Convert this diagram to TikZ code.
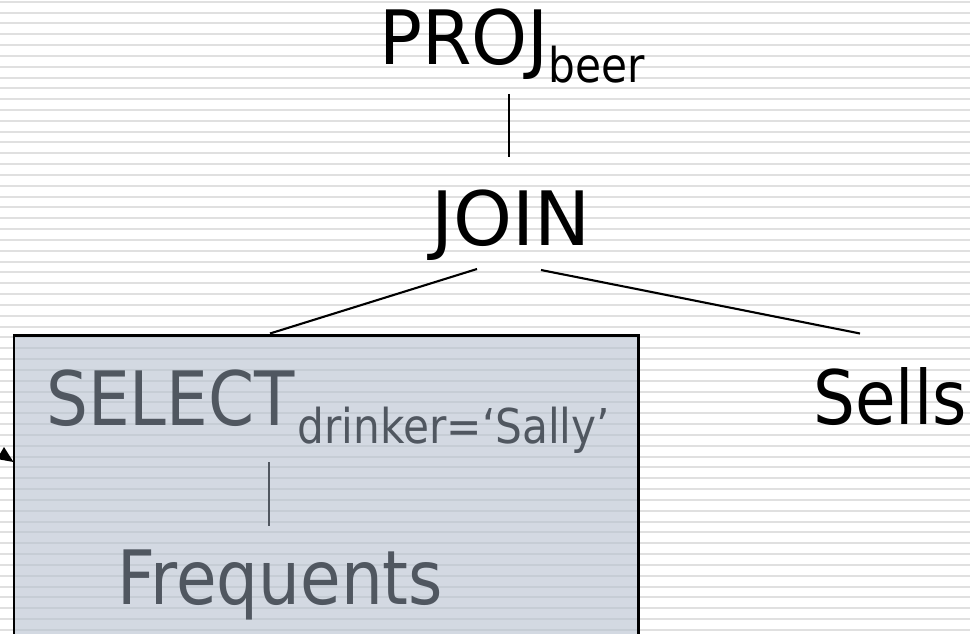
\documentclass[tikz,border=0pt]{standalone}
\usepackage{fontspec}
\newfontfamily\slidefont[FakeStretch=0.88]{DejaVu Sans}
\newfontfamily\slidefontmid[FakeStretch=0.95]{DejaVu Sans}
\newfontfamily\slidefontwide{DejaVu Sans}
\usetikzlibrary{calc}
\definecolor{stripe}{RGB}{224,224,224}
\definecolor{boxfill}{RGB}{182,193,207}
\definecolor{inktext}{RGB}{80,87,96}
\tikzset{
  term/.style={inner sep=0pt, anchor=base west, font=\slidefont\fontsize{75}{80}\selectfont},
  edge/.style={line width=2.1pt, black},
  inedge/.style={line width=1.9pt, inktext},
  groupbox/.style={draw=black, line width=2.8pt, fill=boxfill, fill opacity=0.6,
    inner sep=0pt, anchor=north west},
}
\newcommand{\lowsub}[2][0pt]{\kern#1\raisebox{-18pt}{\slidefont\fontsize{48}{50}\selectfont #2}}
\begin{document}
\begin{tikzpicture}[x=1pt,y=-1pt]
  \useasboundingbox (0,0) rectangle (970,634);
  \clip (0,0) rectangle (970,634);
  \fill[white] (0,0) rectangle (970,634);
  % ruled background
  \foreach \i in {0,...,58} {
    \draw[stripe, line width=2pt] (0,{1.7+10.83*\i}) -- (970,{1.7+10.83*\i});
  }
  % shaded group around the selection subtree
  \node[groupbox, minimum width=624.5pt, minimum height=320pt] (grp) at (12.5,334) {};
  % tree nodes
  \node[term, font=\slidefontmid\fontsize{75}{80}\selectfont] (proj) at (379,65) {PROJ\lowsub{beer}};
  \node[term, anchor=base, font=\slidefontwide\fontsize{75}{80}\selectfont] (join) at (511,245) {JOIN};
  \node[term] (sells) at (813,424) {Sells};
  \node[term, text=inktext] (sel) at (46,425) {SELECT\lowsub[3pt]{drinker=‘Sally’}};
  \node[term, text=inktext] (freq) at (117,604) {Frequents};
  % connector end points
  \coordinate (proj-b) at (509,94);
  \coordinate (join-t) at (509,157);
  \coordinate (join-l) at (477,269);
  \coordinate (join-r) at (541,270);
  \coordinate (sel-t) at (270,333.5);
  \coordinate (sells-t) at (860,333.5);
  \coordinate (sel-b) at (269,462);
  \coordinate (freq-t) at (269,526);
  \draw[edge] (proj-b) -- (join-t);
  \draw[edge] (join-l) -- (sel-t);
  \draw[edge] (join-r) -- (sells-t);
  \draw[inedge] (sel-b) -- (freq-t);
  % arrow head entering from the left margin
  \fill[black] (4,447) -- (13.5,462) -- (-3,459) -- cycle;
\end{tikzpicture}
\end{document}
